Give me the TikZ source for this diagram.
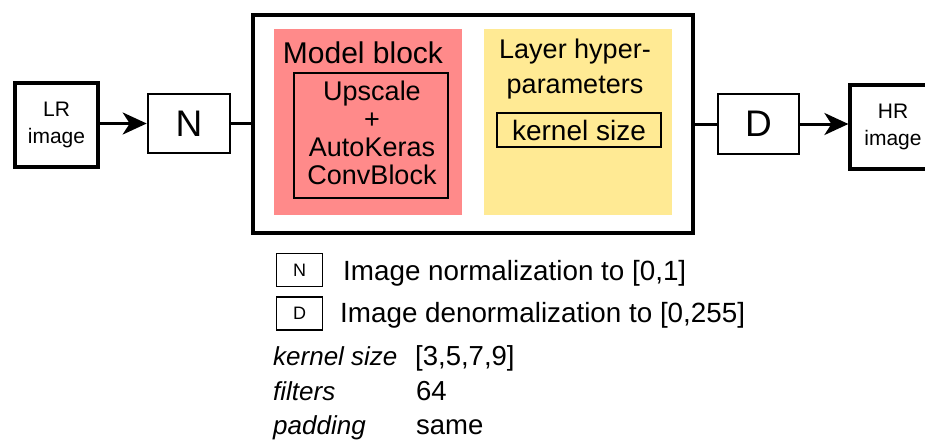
\documentclass[tikz,border=0pt]{standalone}
\usepackage{fontspec}
\setmainfont{Liberation Sans}
\usetikzlibrary{arrows.meta}
\definecolor{redfill}{HTML}{FF8A8A}
\definecolor{yelfill}{HTML}{FFEA94}
\begin{document}
\begin{tikzpicture}[x=1pt,y=-1pt,
  thickbox/.style={draw, line width=3.2pt, inner sep=0pt},
  opbox/.style={draw, line width=2.6pt, inner sep=0pt, font=\fontsize{37}{37}\selectfont},
  legbox/.style={draw, line width=1.2pt, inner sep=0pt, font=\fontsize{18}{18}\selectfont},
  conn/.style={line width=3pt},
  arr/.style={line width=3pt, -{Stealth[length=24pt,width=22pt,inset=7pt]}},
  txt/.style={inner sep=0pt, anchor=base west},
  lbl/.style={inner sep=0pt, align=center}]
\useasboundingbox (0,0) rectangle (925,439);
% LR image
\node[thickbox, minimum width=83pt, minimum height=84pt, align=center,
  font=\fontsize{21}{27}\selectfont] (lr) at (56.5,125) {LR\\image};
% N
\node[opbox, minimum width=82pt, minimum height=59pt] (n) at (189,123.5) {N};
% main box
\node[thickbox, line width=3.6pt, minimum width=440pt, minimum height=218pt] (main) at (473,124) {};
% red box
\fill[redfill] (274,29) rectangle (462,215);
\node[lbl, font=\fontsize{30}{30}\selectfont] (mb) at (363,53) {Model block};
\node[draw, line width=1.8pt, minimum width=154pt, minimum height=125pt, inner sep=0pt] (inner) at (371,135.5) {};
\node[lbl, font=\fontsize{27}{28}\selectfont] (innertxt) at (372,133) {Upscale\\+\\AutoKeras\\ConvBlock};
% yellow box
\fill[yelfill] (484,29) rectangle (672,215);
\node[inner sep=0pt, anchor=base, font=\fontsize{27}{27}\selectfont] (lh1) at (575,58) {Layer hyper-};
\node[inner sep=0pt, anchor=base, font=\fontsize{27}{27}\selectfont] (lh2) at (575,93) {parameters};
\node[draw, line width=1.8pt, minimum width=164pt, minimum height=34pt, inner sep=0pt,
  font=\fontsize{28}{28}\selectfont] (ks) at (579,130) {kernel size};
% D
\node[opbox, minimum width=81pt, minimum height=60pt] (d) at (758.5,124) {D};
% HR image
\node[thickbox, minimum width=83pt, minimum height=84pt] (hr) at (891.5,127) {};
\node[lbl, font=\fontsize{21}{27}\selectfont] (hrt) at (893,127) {HR\\image};
% connectors
\draw[arr] (lr.east |- n) -- (n.west);
\draw[conn] (n.east) -- (main.west |- n);
\draw[conn] (main.east |- d) -- (d.west);
\draw[arr] (d.east) -- (hr.west |- d);
% legend
\node[legbox, minimum width=46pt, minimum height=33pt] (ln) at (299.5,270) {N};
\node[txt, font=\fontsize{27.8}{27.8}\selectfont] (lnt) at (343,280) {Image normalization to [0,1]};
\node[legbox, minimum width=46pt, minimum height=33pt] (ld) at (299.5,313.5) {D};
\node[txt, font=\fontsize{27.8}{27.8}\selectfont] (ldt) at (340,322) {Image denormalization to [0,255]};
% params
\node[txt, font=\fontsize{26}{26}\itshape] (p1) at (273,365) {kernel size};
\node[txt, font=\fontsize{27.5}{27.5}\selectfont] (v1) at (415,365) {[3,5,7,9]};
\node[txt, font=\fontsize{26}{26}\itshape] (p2) at (273,400) {filters};
\node[txt, font=\fontsize{27.5}{27.5}\selectfont] (v2) at (416,400) {64};
\node[txt, font=\fontsize{26}{26}\itshape] (p3) at (273,434) {padding};
\node[txt, font=\fontsize{27.5}{27.5}\selectfont] (v3) at (416,434) {same};
\end{tikzpicture}
\end{document}
